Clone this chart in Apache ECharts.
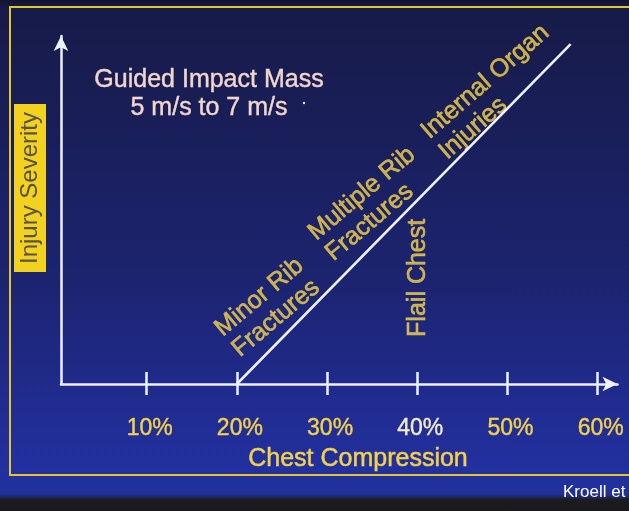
<!DOCTYPE html>
<html>
<head>
<meta charset="utf-8">
<script src="https://cdn.jsdelivr.net/npm/echarts@6/dist/echarts.min.js"></script>
<style>
  html, body { margin: 0; padding: 0; }
  body {
    width: 629px; height: 511px; overflow: hidden;
    background: linear-gradient(to bottom, #11142e 0px, #171b48 8px, #191e58 120px, #1c2470 280px, #2230a0 470px, #22309a 494px, #1b1b20 500px, #1a1a1a 511px);
  }
  #container { width: 629px; height: 511px; }
</style>
</head>
<body>
<div id="container"></div>
<script>
// x axis: chest compression (%)
var xTicks = [10, 20, 30, 40, 50, 60];
var xTickLabels = ['10%', '20%', '30%', '40%', '50%', '60%'];

// severity line (x = % compression, y = relative severity 0..100)
var lineX = [20, 57];
var lineY = [0, 97.7];

// injury annotations placed along the line
var annText = ['Minor Rib\nFractures', 'Multiple Rib\nFractures', 'Internal Organ\nInjuries', 'Flail Chest'];
var annX = [18.9, 29.27, 41.85, 40.1];
var annY = [12.07, 39.66, 68.8, 30.5];
var annRotate = [40, 40, 41, 90];

var YELLOW = '#f3d24a';
var WHITE = '#eef2ff';
var FONT = "'Liberation Sans', Arial, sans-serif";

var app = (function() {
	var dom = document.getElementById('container');
	var myChart = echarts.init(dom, null, { renderer: 'canvas' });

	var lineData = lineX.map(function(x, i) { return [x, lineY[i]]; });
	var annData = annText.map(function(t, i) {
		var vertical = annRotate[i] === 90;
		return {
			value: [annX[i], annY[i]],
			label: {
				formatter: t,
				rotate: annRotate[i],
				align: vertical ? 'center' : 'left',
				verticalAlign: 'middle'
			}
		};
	});

	var axisCommon = {
		type: 'value',
		min: 0.5,
		max: 62.2,
		splitLine: { show: false }
	};

	var option = {
		backgroundColor: 'transparent',
		animation: false,
		grid: { left: 61, right: 11.5, top: 36, bottom: 127 },
		xAxis: [
			Object.assign({}, axisCommon, {
				position: 'bottom',
				axisLine: {
					show: true,
					symbol: ['none', 'arrow'],
					symbolSize: [11, 15],
					lineStyle: { color: WHITE, width: 2.5 }
				},
				axisTick: {
					show: true,
					inside: true,
					length: 12,
					customValues: xTicks,
					lineStyle: { color: WHITE, width: 2.5 }
				},
				axisLabel: {
					show: true,
					customValues: xTicks,
					margin: 33,
					color: YELLOW,
					fontFamily: FONT,
					fontSize: 23,
					textBorderColor: YELLOW,
					textBorderWidth: 0.4,
					padding: [0, 0, 0, 6],
					formatter: function(v) {
						var i = xTicks.indexOf(v);
						if (i < 0) return '';
						return v === 40 ? '{w|' + xTickLabels[i] + '}' : xTickLabels[i];
					},
					rich: { w: { color: '#f3ebc8', fontFamily: FONT, fontSize: 23, textBorderColor: '#f3ebc8', textBorderWidth: 0.4 } }
				}
			}),
			Object.assign({}, axisCommon, {
				position: 'bottom',
				axisLine: { show: false },
				axisTick: {
					show: true,
					inside: false,
					length: 11,
					customValues: xTicks,
					lineStyle: { color: WHITE, width: 2.5 }
				},
				axisLabel: { show: false }
			})
		],
		yAxis: {
			type: 'value',
			min: 0,
			max: 100,
			splitLine: { show: false },
			axisTick: { show: false },
			axisLabel: { show: false },
			axisLine: {
				show: true,
				symbol: ['none', 'arrow'],
				symbolSize: [11, 15],
				lineStyle: { color: WHITE, width: 2.5 }
			}
		},
		series: [{
			type: 'line',
			data: lineData,
			symbol: 'none',
			silent: true,
			lineStyle: { color: WHITE, width: 2.5 }
		}, {
			type: 'scatter',
			data: annData,
			symbolSize: 0,
			silent: true,
			label: {
				show: true,
				position: 'inside',
				color: YELLOW,
				fontFamily: FONT,
				fontSize: 25,
				lineHeight: 27,
				textBorderColor: YELLOW,
				textBorderWidth: 0.6
			}
		}],
		graphic: [{
			type: 'rect',
			silent: true,
			shape: { x: 10, y: 7, width: 640, height: 468 },
			style: { fill: 'none', stroke: '#e2c530', lineWidth: 2 }
		}, {
			type: 'text',
			x: 209, y: 94,
			style: {
				text: 'Guided Impact Mass\n5 m/s to 7 m/s',
				textAlign: 'center',
				textVerticalAlign: 'middle',
				fill: '#f2d6cc',
				stroke: '#f2d6cc',
				lineWidth: 0.4,
				font: '25px ' + FONT,
				lineHeight: 28
			}
		}, {
			type: 'circle',
			shape: { cx: 304, cy: 103, r: 1.2 },
			style: { fill: '#f2d6cc' }
		}, {
			type: 'text',
			x: 358, y: 459,
			style: {
				text: 'Chest Compression',
				textAlign: 'center',
				textVerticalAlign: 'middle',
				fill: YELLOW,
				stroke: YELLOW,
				lineWidth: 0.5,
				font: '25px ' + FONT
			}
		}, {
			type: 'text',
			x: 30, y: 188,
			rotation: Math.PI / 2,
			style: {
				text: 'Injury Severity',
				textAlign: 'center',
				textVerticalAlign: 'middle',
				fill: '#57524a',
				font: '24px ' + FONT,
				backgroundColor: '#f2d21e',
				padding: [4, 8, 4, 8]
			}
		}, {
			type: 'text',
			x: 563, y: 492,
			style: {
				text: 'Kroell et al.',
				textAlign: 'left',
				textVerticalAlign: 'middle',
				fill: '#ffffff',
				font: '17px ' + FONT
			}
		}]
	};

	myChart.setOption(option);
	return { chart: myChart };
})();
</script>
</body>
</html>
